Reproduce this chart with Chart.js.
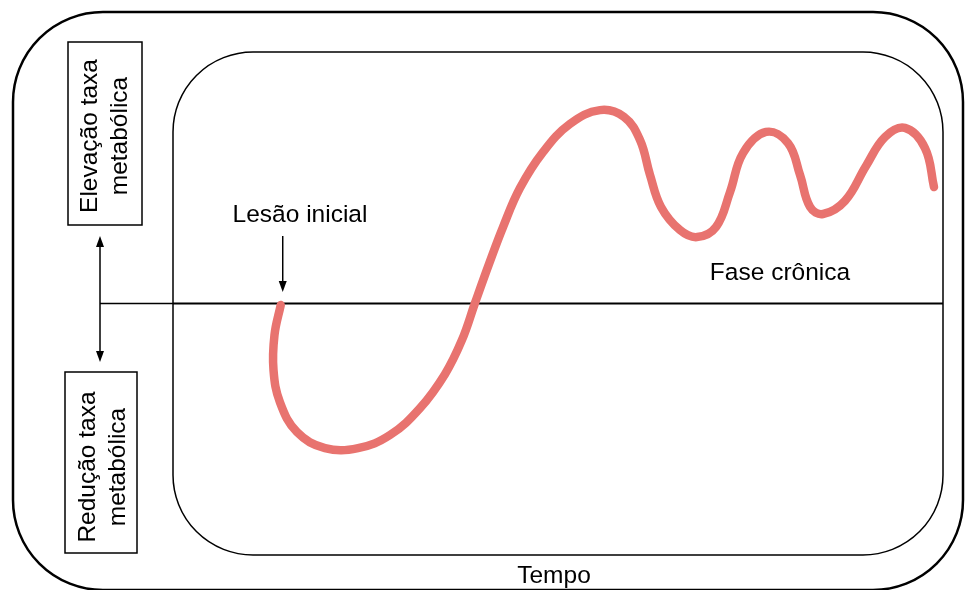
<!DOCTYPE html>
<html lang="pt">
<head>
<meta charset="utf-8">
<title>Taxa metabólica ao longo do tempo</title>
<script src="https://cdn.jsdelivr.net/npm/chart.js@4.4.1/dist/chart.umd.min.js"></script>
<style>
  html, body { margin: 0; padding: 0; background: #fff; }
  #wrap { width: 965px; height: 590px; }
</style>
</head>
<body>
<div id="wrap"><canvas id="chart" width="965" height="590"></canvas></div>
<script>
'use strict';

/* ── DATA (tempo 0–100, taxa metabólica relativa ao basal) ─────────── */
var tempo = [13.99, 13.18, 13.05, 13.90, 16.10, 19.74, 24.03, 28.18, 32.08, 35.32,
             37.53, 39.22, 41.04, 42.86, 45.06, 48.05, 51.56, 55.45, 58.57, 60.65,
             61.95, 63.38, 65.84, 68.05, 70.52, 72.34, 74.03, 77.01, 79.87, 81.43,
             82.73, 84.42, 87.27, 90.00, 92.47, 95.06, 97.66, 98.83];
var taxa  = [-0.06, -1.25, -2.64, -3.94, -5.11, -5.75, -5.75, -5.23, -4.16, -2.81,
             -1.45, 0.02, 1.57, 3.04, 4.59, 6.02, 7.14, 7.69, 7.42, 6.50,
             5.11, 3.84, 2.92, 2.64, 3.04, 4.43, 5.98, 6.82, 6.38, 5.11,
             3.84, 3.56, 4.08, 5.47, 6.62, 6.98, 6.18, 4.63];

var labelTempo    = 'Tempo';
var labelLesao    = 'Lesão inicial';
var labelCronica  = 'Fase crônica';
var labelElevacao = ['Elevação taxa', 'metabólica'];
var labelReducao  = ['Redução taxa', 'metabólica'];

var FONT = '24.5px "Liberation Sans", Arial, sans-serif';
var CURVE = '#e8736f';

/* ── HELPERS ───────────────────────────────────────────────────── */
function roundRect(ctx, x, y, w, h, r) {
  ctx.beginPath();
  ctx.moveTo(x + r, y);
  ctx.arcTo(x + w, y, x + w, y + h, r);
  ctx.arcTo(x + w, y + h, x, y + h, r);
  ctx.arcTo(x, y + h, x, y, r);
  ctx.arcTo(x, y, x + w, y, r);
  ctx.closePath();
}

function arrowHead(ctx, x, y, dir) {
  /* dir: 1 = pointing down, -1 = pointing up */
  ctx.beginPath();
  ctx.moveTo(x, y);
  ctx.lineTo(x - 4, y - 11 * dir);
  ctx.lineTo(x + 4, y - 11 * dir);
  ctx.closePath();
  ctx.fill();
}

function rotatedLines(ctx, lines, cx, cy, offsets) {
  ctx.save();
  ctx.translate(cx, cy);
  ctx.rotate(-Math.PI / 2);
  ctx.textAlign = 'center';
  ctx.textBaseline = 'alphabetic';
  lines.forEach(function(t, i) { ctx.fillText(t, 0, offsets[i]); });
  ctx.restore();
}

/* ── DIAGRAM PLUGIN ────────────────────────────────────────────── */
var diagramPlugin = {
  id: 'diagram',
  beforeDatasetsDraw: function(chart) {
    var ctx = chart.ctx;
    var a = chart.chartArea;
    var y0 = chart.scales.y.getPixelForValue(0);

    ctx.save();
    ctx.strokeStyle = '#000';

    /* outer frame (runs slightly past the canvas edge on right/bottom) */
    ctx.lineWidth = 2.5;
    roundRect(ctx, 13, 12, 950, 578, 90);
    ctx.stroke();

    /* inner frame = plot area */
    ctx.lineWidth = 1.5;
    roundRect(ctx, a.left, a.top, a.right - a.left, a.bottom - a.top, 80);
    ctx.stroke();

    /* baseline (taxa basal) */
    ctx.lineWidth = 1.5;
    ctx.beginPath();
    ctx.moveTo(100, y0);
    ctx.lineTo(a.left, y0);
    ctx.stroke();
    ctx.lineWidth = 2;
    ctx.beginPath();
    ctx.moveTo(a.left, y0);
    ctx.lineTo(a.right, y0);
    ctx.stroke();

    /* double arrow */
    ctx.fillStyle = '#000';
    ctx.lineWidth = 1.5;
    ctx.beginPath();
    ctx.moveTo(100, 244);
    ctx.lineTo(100, 354);
    ctx.stroke();
    arrowHead(ctx, 100, 236, -1);
    arrowHead(ctx, 100, 362, 1);

    /* boxes */
    ctx.lineWidth = 1.5;
    ctx.strokeRect(68, 42, 74, 183);
    ctx.strokeRect(65, 372, 72, 181);
    ctx.restore();
  },
  afterDatasetsDraw: function(chart) {
    var ctx = chart.ctx;
    var xs = chart.scales.x;
    var xLesao = xs.getPixelForValue(tempo[0]) + 2;

    ctx.save();
    ctx.fillStyle = '#000';
    ctx.strokeStyle = '#000';
    ctx.font = FONT;
    ctx.textAlign = 'center';
    ctx.textBaseline = 'alphabetic';

    ctx.fillText(labelLesao, 300, 222);
    ctx.fillText(labelCronica, 780, 280);
    ctx.fillText(labelTempo, 554, 583);

    /* lesão arrow */
    ctx.lineWidth = 1.5;
    ctx.beginPath();
    ctx.moveTo(xLesao, 236);
    ctx.lineTo(xLesao, 284);
    ctx.stroke();
    arrowHead(ctx, xLesao, 292, 1);

    rotatedLines(ctx, labelElevacao, 105, 136, [-8, 22]);
    rotatedLines(ctx, labelReducao, 101, 467, [-6, 24]);
    ctx.restore();
  }
};

/* ── CHART ─────────────────────────────────────────────────────── */
var points = tempo.map(function(t, i) { return { x: t, y: taxa[i] }; });

new Chart(document.getElementById('chart'), {
  type: 'line',
  data: {
    datasets: [{
      label: 'Taxa metabólica',
      data: points,
      borderColor: CURVE,
      backgroundColor: CURVE,
      borderWidth: 8.5,
      borderCapStyle: 'round',
      borderJoinStyle: 'round',
      tension: 0.4,
      cubicInterpolationMode: 'default',
      fill: false,
      pointRadius: 0,
      clip: false
    }]
  },
  options: {
    responsive: false,
    devicePixelRatio: 1,
    animation: false,
    layout: { padding: { left: 173, top: 52, right: 22, bottom: 35 } },
    scales: {
      x: { type: 'linear', min: 0, max: 100, display: false },
      y: { type: 'linear', min: -10, max: 10, display: false }
    },
    elements: { line: { capBezierPoints: false } },
    plugins: {
      legend: { display: false },
      tooltip: { enabled: false }
    }
  },
  plugins: [diagramPlugin]
});
</script>
</body>
</html>
